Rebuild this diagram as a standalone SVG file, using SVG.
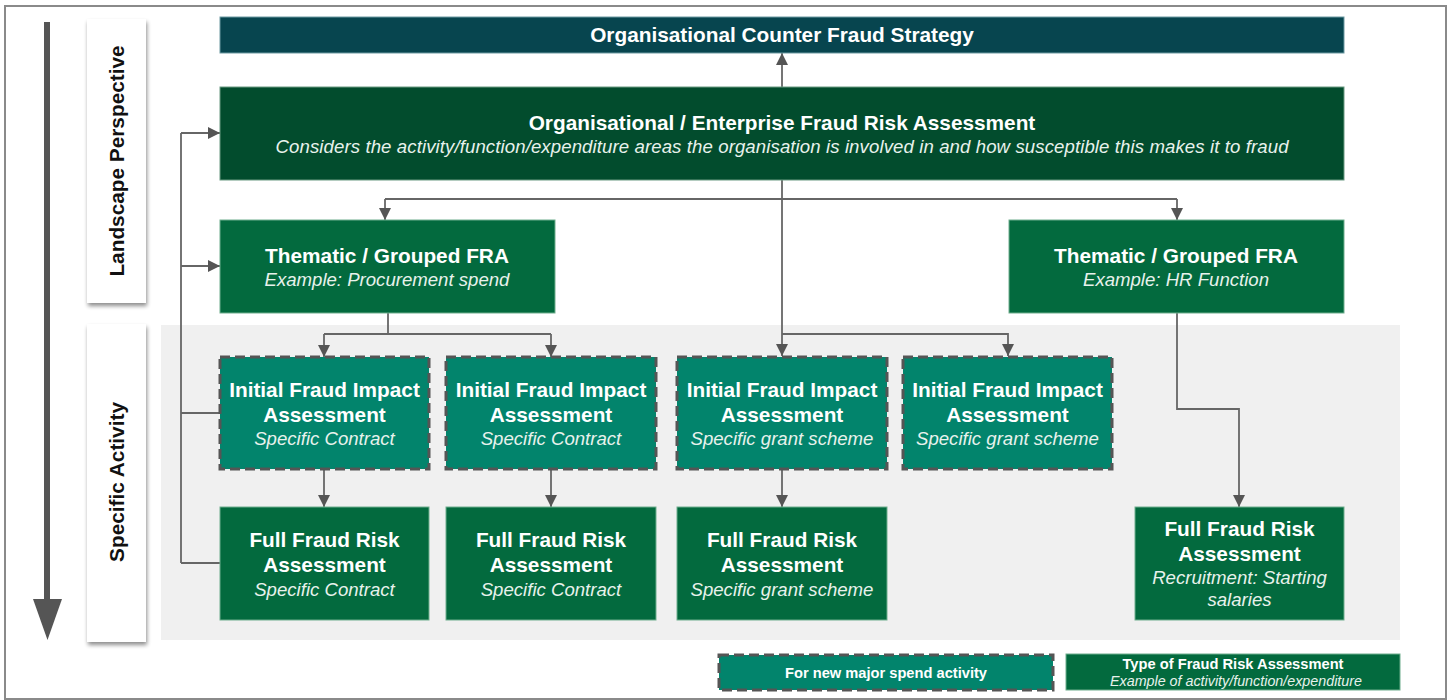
<svg xmlns="http://www.w3.org/2000/svg" width="1451" height="700" viewBox="0 0 1451 700">
  <defs>
    <style>
      .frame { fill: #ffffff; stroke: #8a8a8a; stroke-width: 2; }
      .band { fill: #f0f0f0; }
      .side { fill: #ffffff; filter: url(#shadow); }
      .strategy { fill: #07454f; stroke: #6d9aa2; stroke-width: 1; }
      .enterprise { fill: #024c2d; stroke: #6a9a82; stroke-width: 1; }
      .fra { fill: #036a3e; stroke: #6fae8d; stroke-width: 1; }
      .impact { fill: #02846c; stroke: #555555; stroke-width: 3; stroke-dasharray: 10 5; }
      .t { font-family: "Liberation Sans", Arial, sans-serif; fill: #ffffff; text-anchor: middle; }
      .b { font-weight: bold; font-size: 20.8px; }
      .i { font-style: italic; font-size: 18.6px; fill: #e8f2ec; }
      .side-label { font-family: "Liberation Sans", Arial, sans-serif; font-weight: bold; font-size: 20.8px; fill: #111111; text-anchor: middle; }
      .conn { fill: none; stroke: #666666; stroke-width: 1.8; }
      .lg-b { font-weight: bold; font-size: 15px; }
      .lg-i { font-style: italic; font-size: 15px; fill: #e8f2ec; }
    </style>
    <marker id="arrow" viewBox="0 0 12 12" refX="12" refY="6" markerWidth="12" markerHeight="12" markerUnits="userSpaceOnUse" orient="auto">
      <path d="M0,0 L12,6 L0,12 Z" fill="#555555"/>
    </marker>
    <filter id="shadow" x="-20%" y="-10%" width="150%" height="130%">
      <feGaussianBlur in="SourceAlpha" stdDeviation="2"/>
      <feOffset dx="1" dy="3" result="off"/>
      <feComponentTransfer><feFuncA type="linear" slope="0.45"/></feComponentTransfer>
      <feMerge><feMergeNode/><feMergeNode in="SourceGraphic"/></feMerge>
    </filter>
  </defs>

  <!-- outer frame and background areas -->
  <rect class="frame" x="5" y="6" width="1441" height="693"/>
  <rect class="band" x="161" y="325" width="1239" height="315"/>

  <!-- direction arrow -->
  <g id="direction-arrow">
    <rect x="44" y="22" width="6" height="580" fill="#555555"/>
    <path d="M33,599 L62,599 L47.5,640 Z" fill="#555555"/>
  </g>

  <!-- level labels -->
  <g id="label-landscape">
    <rect class="side" x="87" y="19" width="59" height="284"/>
    <text class="side-label" transform="translate(124,161) rotate(-90)">Landscape Perspective</text>
  </g>
  <g id="label-specific">
    <rect class="side" x="87" y="324" width="59" height="318"/>
    <text class="side-label" transform="translate(124,482) rotate(-90)">Specific Activity</text>
  </g>

  <!-- connectors -->
  <g id="connectors">
    <!-- enterprise up to strategy -->
    <path class="conn" d="M782,87 L782,53" marker-end="url(#arrow)"/>
    <!-- enterprise down to thematic assessments -->
    <path class="conn" d="M385,199 L1177,199"/>
    <path class="conn" d="M385,199 L385,220" marker-end="url(#arrow)"/>
    <path class="conn" d="M1177,199 L1177,220" marker-end="url(#arrow)"/>
    <!-- enterprise down to grant schemes -->
    <path class="conn" d="M782,180 L782,356" marker-end="url(#arrow)"/>
    <path class="conn" d="M782,334 L1008,334 L1008,356" marker-end="url(#arrow)"/>
    <!-- procurement thematic down to contracts -->
    <path class="conn" d="M388,313 L388,334"/>
    <path class="conn" d="M324,334 L551,334"/>
    <path class="conn" d="M324,334 L324,357" marker-end="url(#arrow)"/>
    <path class="conn" d="M551,334 L551,357" marker-end="url(#arrow)"/>
    <!-- initial impact to full assessments -->
    <path class="conn" d="M324,469 L324,507" marker-end="url(#arrow)"/>
    <path class="conn" d="M551,469 L551,507" marker-end="url(#arrow)"/>
    <path class="conn" d="M782,469 L782,507" marker-end="url(#arrow)"/>
    <!-- HR thematic down to recruitment -->
    <path class="conn" d="M1177,313 L1177,409 L1239,409 L1239,507" marker-end="url(#arrow)"/>
    <!-- feedback from specific activity to landscape -->
    <path class="conn" d="M220,413 L181,413 M220,563 L181,563 M181,563 L181,133"/>
    <path class="conn" d="M181,133 L220,133" marker-end="url(#arrow)"/>
    <path class="conn" d="M181,266 L220,266" marker-end="url(#arrow)"/>
  </g>

  <!-- strategy -->
  <g id="strategy">
    <rect class="strategy" x="220" y="17" width="1124" height="36"/>
    <text class="t b" x="782" y="42">Organisational Counter Fraud Strategy</text>
  </g>

  <!-- enterprise assessment -->
  <g id="enterprise-fra">
    <rect class="enterprise" x="220" y="87" width="1124" height="93"/>
    <text class="t b" x="782" y="130">Organisational / Enterprise Fraud Risk Assessment</text>
    <text class="t i" x="782" y="153" textLength="1013" lengthAdjust="spacing">Considers the activity/function/expenditure areas the organisation is involved in and how susceptible this makes it to fraud</text>
  </g>

  <!-- thematic assessments -->
  <g id="thematic-procurement">
    <rect class="fra" x="220" y="220" width="335" height="93"/>
    <text class="t b" x="387" y="263">Thematic / Grouped FRA</text>
    <text class="t i" x="387" y="286">Example: Procurement spend</text>
  </g>
  <g id="thematic-hr">
    <rect class="fra" x="1009" y="220" width="335" height="93"/>
    <text class="t b" x="1176" y="263">Thematic / Grouped FRA</text>
    <text class="t i" x="1176" y="286">Example: HR Function</text>
  </g>

  <!-- initial fraud impact assessments -->
  <g id="ifia-contract-1">
    <rect class="impact" x="220" y="357" width="209" height="112"/>
    <text class="t b" x="324.5" y="397">Initial Fraud Impact</text>
    <text class="t b" x="324.5" y="422">Assessment</text>
    <text class="t i" x="324.5" y="445">Specific Contract</text>
  </g>
  <g id="ifia-contract-2">
    <rect class="impact" x="446" y="357" width="210" height="112"/>
    <text class="t b" x="551" y="397">Initial Fraud Impact</text>
    <text class="t b" x="551" y="422">Assessment</text>
    <text class="t i" x="551" y="445">Specific Contract</text>
  </g>
  <g id="ifia-grant-1">
    <rect class="impact" x="677" y="357" width="210" height="112"/>
    <text class="t b" x="782" y="397">Initial Fraud Impact</text>
    <text class="t b" x="782" y="422">Assessment</text>
    <text class="t i" x="782" y="445">Specific grant scheme</text>
  </g>
  <g id="ifia-grant-2">
    <rect class="impact" x="903" y="357" width="209" height="112"/>
    <text class="t b" x="1007.5" y="397">Initial Fraud Impact</text>
    <text class="t b" x="1007.5" y="422">Assessment</text>
    <text class="t i" x="1007.5" y="445">Specific grant scheme</text>
  </g>

  <!-- full fraud risk assessments -->
  <g id="ffra-contract-1">
    <rect class="fra" x="220" y="507" width="209" height="113"/>
    <text class="t b" x="324.5" y="547">Full Fraud Risk</text>
    <text class="t b" x="324.5" y="572">Assessment</text>
    <text class="t i" x="324.5" y="596">Specific Contract</text>
  </g>
  <g id="ffra-contract-2">
    <rect class="fra" x="446" y="507" width="210" height="113"/>
    <text class="t b" x="551" y="547">Full Fraud Risk</text>
    <text class="t b" x="551" y="572">Assessment</text>
    <text class="t i" x="551" y="596">Specific Contract</text>
  </g>
  <g id="ffra-grant">
    <rect class="fra" x="677" y="507" width="210" height="113"/>
    <text class="t b" x="782" y="547">Full Fraud Risk</text>
    <text class="t b" x="782" y="572">Assessment</text>
    <text class="t i" x="782" y="596">Specific grant scheme</text>
  </g>
  <g id="ffra-recruitment">
    <rect class="fra" x="1135" y="507" width="209" height="113"/>
    <text class="t b" x="1239.5" y="536">Full Fraud Risk</text>
    <text class="t b" x="1239.5" y="561">Assessment</text>
    <text class="t i" x="1239.5" y="584">Recruitment: Starting</text>
    <text class="t i" x="1239.5" y="606">salaries</text>
  </g>

  <!-- key -->
  <g id="legend-impact">
    <rect class="impact" x="719" y="655" width="334" height="35"/>
    <text class="t lg-b" x="886" y="678" textLength="202" lengthAdjust="spacingAndGlyphs">For new major spend activity</text>
  </g>
  <g id="legend-fra">
    <rect class="fra" x="1066" y="654" width="334" height="36"/>
    <text class="t lg-b" x="1233" y="668.5" textLength="221" lengthAdjust="spacingAndGlyphs">Type of Fraud Risk Assessment</text>
    <text class="t lg-i" x="1236" y="686" textLength="252" lengthAdjust="spacingAndGlyphs">Example of activity/function/expenditure</text>
  </g>
</svg>
